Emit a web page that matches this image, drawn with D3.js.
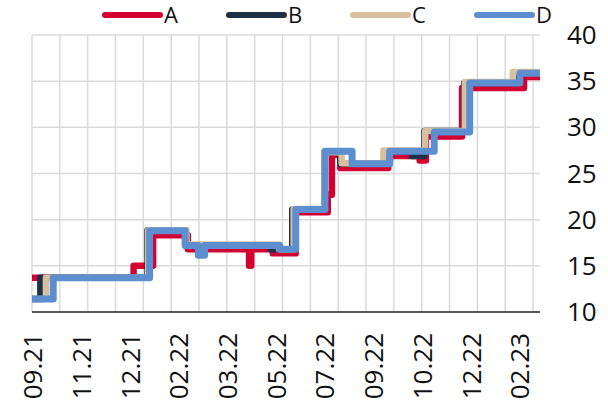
<!DOCTYPE html>
<html>
<head>
<meta charset="utf-8">
<script src="https://cdn.jsdelivr.net/npm/d3@7"></script>
<style>
  body { margin: 0; background: #fff; }
  svg { display: block; font-family: "Open Sans", sans-serif; }
</style>
</head>
<body>
<svg id="chart" width="608" height="407"></svg>
<script>
// weekly step series, stored as change points [week, value]
const seriesNames = ["A", "B", "C", "D"];
const seriesColors = ["#d50032", "#1d3144", "#d8c09e", "#5d8ecf"];

const seriesA = [[0, 13.7], [14.6, 15.0], [17.4, 18.3], [22.4, 16.8], [31.2, 15.0], [31.5, 16.8],
  [34.6, 16.35], [37.9, 20.8], [42.5, 22.7], [43.1, 27.0], [44.3, 25.6], [51.2, 26.9],
  [55.7, 26.4], [56.6, 29.0], [61.8, 34.25], [70.7, 35.45]];
const seriesB = [[0, 11.4], [1.2, 13.7], [16.6, 18.85], [22.1, 17.2], [34.3, 16.8], [37.4, 21.1],
  [42.0, 27.3], [44.3, 26.05], [51.0, 27.4], [54.6, 26.9], [56.4, 29.6], [62.1, 34.8], [69.5, 35.9]];
const seriesC = [[0, 11.4], [2.0, 13.7], [16.7, 18.85], [22.2, 17.3], [35.5, 16.8], [37.6, 21.15],
  [42.0, 27.3], [44.5, 26.1], [50.5, 27.5], [56.5, 29.6], [62.2, 34.9], [69.1, 36.0]];
const seriesD = [[0, 11.4], [3.05, 13.7], [16.9, 18.8], [22.0, 17.2], [23.9, 16.15], [24.8, 17.2],
  [35.6, 16.8], [37.9, 21.1], [42.1, 27.4], [46.0, 26.05], [51.4, 27.4], [57.8, 29.5],
  [62.9, 34.8], [70.1, 35.85]];
const allSeries = [seriesA, seriesB, seriesC, seriesD];

const lastWeek = 73;
const tickWeeks = [0, 7, 14, 21, 28, 35, 42, 49, 56, 63, 70];
const tickLabels = ["09.21", "11.21", "12.21", "02.22", "03.22", "05.22", "07.22", "09.22", "10.22", "12.22", "02.23"];
const gridWeeks = d3.range(0, 73, 4);
const yTicks = [10, 15, 20, 25, 30, 35, 40];

const svg = d3.select("#chart");
const x = d3.scaleLinear().domain([0, lastWeek]).range([32, 540]);
const y = d3.scaleLinear().domain([10, 40]).range([312, 35]);

// grid
svg.append("g")
    .selectAll("line")
    .data(gridWeeks)
    .join("line")
    .attr("x1", d => x(d)).attr("x2", d => x(d))
    .attr("y1", y(40)).attr("y2", y(10))
    .attr("stroke", "#dadada")
    .attr("stroke-width", 1.5);

svg.append("g")
    .selectAll("line")
    .data(yTicks.filter(d => d > 10))
    .join("line")
    .attr("x1", x(0)).attr("x2", x(lastWeek))
    .attr("y1", d => y(d)).attr("y2", d => y(d))
    .attr("stroke", "#dadada")
    .attr("stroke-width", 1.5);

// lines
const line = d3.line()
    .x(d => x(d[0]))
    .y(d => y(d[1]))
    .curve(d3.curveStepAfter);

allSeries.forEach((s, i) => {
    const pts = s.concat([[lastWeek, s[s.length - 1][1]]]);
    svg.append("path")
        .datum(pts)
        .attr("fill", "none")
        .attr("stroke", seriesColors[i])
        .attr("stroke-width", i === 3 ? 7 : 6.5)
        .attr("stroke-linejoin", "round")
        .attr("d", line);
});

// x axis line
svg.append("line")
    .attr("x1", x(0)).attr("x2", x(lastWeek))
    .attr("y1", y(10)).attr("y2", y(10))
    .attr("stroke", "#222")
    .attr("stroke-width", 1.5);

// x labels
svg.append("g")
    .selectAll("text")
    .data(tickWeeks)
    .join("text")
    .attr("transform", d => `translate(${x(d) + 1},333) rotate(-90)`)
    .attr("text-anchor", "end")
    .attr("dy", "0.35em")
    .style("font-size", "26px")
    .attr("fill", "#111")
    .text((d, i) => tickLabels[i]);

// y labels on the right
svg.append("g")
    .selectAll("text")
    .data(yTicks)
    .join("text")
    .attr("x", 567)
    .attr("y", d => y(d))
    .attr("dy", "0.35em")
    .style("font-size", "26px")
    .attr("fill", "#111")
    .text(d => d);

// legend
const legend = svg.append("g")
    .selectAll("g")
    .data(seriesNames)
    .join("g")
    .attr("transform", (d, i) => `translate(${105 + i * 124},15)`);

legend.append("line")
    .attr("x1", 0).attr("x2", 55)
    .attr("stroke", (d, i) => seriesColors[i])
    .attr("stroke-width", 6)
    .attr("stroke-linecap", "round");

legend.append("text")
    .attr("x", 59)
    .attr("dy", "0.36em")
    .style("font-size", "22px")
    .attr("fill", "#111")
    .text(d => d);
</script>
</body>
</html>
